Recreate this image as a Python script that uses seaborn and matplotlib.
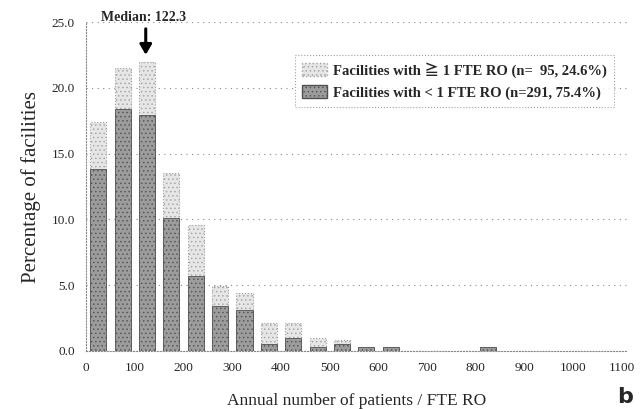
import numpy as np
import pandas as pd
import matplotlib
matplotlib.use("Agg")
import matplotlib.pyplot as plt
import seaborn as sns
from matplotlib.patches import Patch

# bins of 50 patients / FTE RO (bin start)
bin_start = [0, 50, 100, 150, 200, 250, 300, 350, 400, 450, 500, 550, 600, 650, 700, 750, 800]
# share of facilities with < 1 FTE RO (dark, lower part)
lt1 = [13.8, 18.4, 17.9, 10.1, 5.7, 3.4, 3.1, 0.5, 1.0, 0.3, 0.5, 0.3, 0.3, 0.0, 0.0, 0.0, 0.3]
# share of facilities with >= 1 FTE RO (light, stacked on top)
ge1 = [3.6, 3.1, 4.1, 3.4, 3.9, 1.5, 1.3, 1.6, 1.1, 0.7, 0.3, 0.0, 0.0, 0.0, 0.0, 0.0, 0.0]

xticks = [0, 100, 200, 300, 400, 500, 600, 700, 800, 900, 1000, 1100]
yticks = [0, 5, 10, 15, 20, 25]
median = 122.3

df = pd.DataFrame({"start": bin_start, "lt1": lt1, "ge1": ge1})
df["mid"] = df["start"] + 25
df["total"] = df["lt1"] + df["ge1"]

sns.set_style("white")
plt.rcParams['font.family'] = ['Liberation Serif', 'DejaVu Serif', 'Noto Sans CJK JP']
plt.rcParams['hatch.linewidth'] = 0.5

fig = plt.figure(figsize=(6.43, 4.09), dpi=100)
ax = fig.add_axes([0.134, 0.142, 0.841, 0.804])

light = "#e6e6e6"
dark = "#9c9c9c"

sns.barplot(data=df, x="mid", y="total", native_scale=True, width=0.66,
            color=light, saturation=1, ax=ax, zorder=2)
for p in ax.patches:
    p.set_edgecolor("#a0a0a0")
    p.set_linestyle(":")
    p.set_linewidth(0.8)
    p.set_hatch("....")
n_light = len(ax.patches)
sns.barplot(data=df, x="mid", y="lt1", native_scale=True, width=0.66,
            color=dark, saturation=1, ax=ax, zorder=3)
for p in ax.patches[n_light:]:
    p.set_edgecolor("#505050")
    p.set_linewidth(0.6)
    p.set_hatch("....")

ax.set_xlim(0, 1110)
ax.set_ylim(0, 25)
ax.set_xticks(xticks)
ax.set_xticklabels([str(t) for t in xticks])
ax.set_yticks(yticks)
ax.set_yticklabels([f"{t:.1f}" for t in yticks])
ax.tick_params(axis="both", labelsize=9.5, length=0, pad=8)

ax.yaxis.grid(True, linestyle=(0, (1, 4)), color="#888888", linewidth=0.8)
ax.set_axisbelow(True)
for side in ["top", "right"]:
    ax.spines[side].set_visible(False)
for side in ["left", "bottom"]:
    ax.spines[side].set_linestyle(":")
    ax.spines[side].set_color("#888888")
    ax.spines[side].set_linewidth(0.8)

ax.set_xlabel("Annual number of patients / FTE RO", fontsize=12.5, labelpad=14)
ax.set_ylabel("Percentage of facilities", fontsize=15, labelpad=8)

# median marker
ax.annotate("", xy=(median, 22.3), xytext=(median, 24.7),
            arrowprops=dict(arrowstyle="-|>,head_width=0.35,head_length=0.6",
                            color="black", lw=2.2))
ax.text(median - 5, 25.35, "Median: 122.3", ha="center", va="center",
        fontsize=10, fontweight="bold")

handles = [
    Patch(facecolor=light, edgecolor="#a0a0a0", hatch="....", linestyle=":"),
    Patch(facecolor=dark, edgecolor="#505050", hatch="...."),
]
labels = [
    "Facilities with \u2267 1 FTE RO (n=  95, 24.6%)",
    "Facilities with < 1 FTE RO (n=291, 75.4%)",
]
leg = ax.legend(handles, labels, loc="upper right", bbox_to_anchor=(0.99, 0.923),
                prop={"weight": "bold", "size": 10.5}, frameon=True, fancybox=False,
                handlelength=1.7, handleheight=1.0, borderpad=0.5, labelspacing=0.5,
                handletextpad=0.4)
leg.get_frame().set_edgecolor("#888888")
leg.get_frame().set_linestyle(":")
leg.get_frame().set_linewidth(0.8)

fig.text(0.985, 0.03, "b", fontsize=16, fontweight="bold", family="DejaVu Sans",
         ha="right", va="center")

plt.savefig("out.png", dpi=100)
